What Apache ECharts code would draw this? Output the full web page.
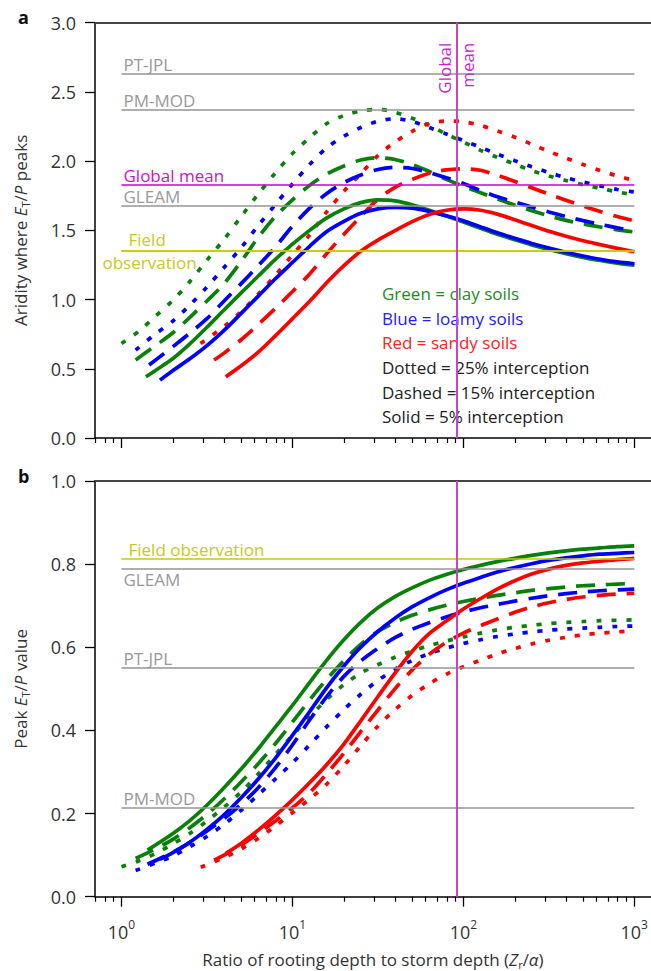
<!DOCTYPE html>
<html><head><meta charset="utf-8">
<script src="https://cdn.jsdelivr.net/npm/echarts@6/dist/echarts.min.js"></script>
<style>html,body{margin:0;padding:0;background:#fff}#c{width:651px;height:971px}</style>
</head><body><div id="c"></div>
<script>
// ---------------- data ----------------
const xMajorTicks = [1, 10, 100, 1000];
const xMinorTicks = [0.7, 0.8, 0.9, 2, 3, 4, 5, 6, 7, 8, 9, 20, 30, 40, 50, 60, 70, 80, 90,
  200, 300, 400, 500, 600, 700, 800, 900];
const globalMeanRatio = 91;
const refLineStartX = 1;
const refLineEndX = 1000;

// panel a reference lines
const refNamesA = ['PT-JPL', 'PM-MOD', 'Global mean', 'GLEAM', 'Field observation'];
const refValuesA = [2.63, 2.37, 1.83, 1.675, 1.355];
// panel b reference lines
const refNamesB = ['Field observation', 'GLEAM', 'PT-JPL', 'PM-MOD'];
const refValuesB = [0.812, 0.79, 0.551, 0.214];

// panel a: aridity where ET/P peaks  [ratio Zr/alpha, aridity]
const aridClayDotted = [[1,0.683],[1.26,0.77],[1.58,0.88],[2,0.995],[2.51,1.13],[3.16,1.285],[3.98,1.435],[5.01,1.60],[6.31,1.762],[7.94,1.915],[10,2.055],[12.6,2.17],[15.8,2.27],[20,2.33],[25.1,2.362],[31.6,2.374],[39.8,2.353],[50.1,2.31],[63.1,2.258],[79.4,2.195],[100,2.138],[126,2.078],[158,2.027],[200,1.978],[251,1.932],[316,1.893],[398,1.86],[501,1.83],[631,1.803],[794,1.778],[1000,1.755]];
const aridLoamyDotted = [[1.21,0.635],[1.58,0.752],[2,0.845],[2.51,0.96],[3.16,1.09],[3.98,1.232],[5.01,1.375],[6.31,1.535],[7.94,1.686],[10,1.835],[12.6,1.975],[15.8,2.095],[20,2.18],[25.1,2.243],[31.6,2.288],[39.8,2.306],[50.1,2.286],[63.1,2.243],[79.4,2.196],[100,2.148],[126,2.10],[158,2.05],[200,2.003],[251,1.96],[316,1.918],[398,1.88],[501,1.849],[631,1.821],[794,1.795],[1000,1.777]];
const aridSandyDotted = [[2.9,0.683],[3.98,0.806],[5.01,0.912],[6.31,1.04],[7.94,1.175],[10,1.323],[12.6,1.467],[15.8,1.632],[20,1.782],[25.1,1.91],[31.6,2.04],[39.8,2.138],[50.1,2.215],[63.1,2.272],[79.4,2.29],[100,2.284],[126,2.258],[158,2.218],[200,2.173],[251,2.122],[316,2.07],[398,2.022],[501,1.975],[631,1.932],[794,1.893],[1000,1.86]];
const aridClayDashed = [[1.21,0.563],[1.58,0.668],[2,0.76],[2.51,0.872],[3.16,0.99],[3.98,1.115],[5.01,1.275],[6.31,1.45],[7.94,1.60],[10,1.72],[12.6,1.825],[15.8,1.905],[20,1.965],[25.1,2.008],[31.6,2.024],[39.8,2.012],[50.1,1.975],[63.1,1.925],[79.4,1.868],[100,1.818],[126,1.772],[158,1.726],[200,1.682],[251,1.642],[316,1.605],[398,1.572],[501,1.546],[631,1.524],[794,1.504],[1000,1.488]];
const aridLoamyDashed = [[1.45,0.527],[2,0.66],[2.51,0.758],[3.16,0.862],[3.98,0.99],[5.01,1.115],[6.31,1.245],[7.94,1.38],[10,1.53],[12.6,1.66],[15.8,1.765],[20,1.845],[25.1,1.90],[31.6,1.94],[39.8,1.955],[50.1,1.947],[63.1,1.917],[79.4,1.88],[100,1.838],[126,1.787],[158,1.742],[200,1.705],[251,1.668],[316,1.633],[398,1.60],[501,1.57],[631,1.543],[794,1.518],[1000,1.496]];
const aridSandyDashed = [[3.48,0.563],[3.98,0.613],[5.01,0.71],[6.31,0.82],[7.94,0.936],[10,1.058],[12.6,1.185],[15.8,1.33],[20,1.472],[25.1,1.60],[31.6,1.725],[39.8,1.81],[50.1,1.868],[63.1,1.912],[79.4,1.937],[100,1.945],[126,1.934],[158,1.898],[200,1.853],[251,1.808],[316,1.762],[398,1.718],[501,1.675],[631,1.636],[794,1.60],[1000,1.568]];
const aridClaySolid = [[1.39,0.442],[1.58,0.488],[2,0.574],[2.51,0.68],[3.16,0.80],[3.98,0.925],[5.01,1.048],[6.31,1.17],[7.94,1.29],[10,1.40],[12.6,1.50],[15.8,1.588],[20,1.655],[25.1,1.70],[31.6,1.72],[39.8,1.713],[50.1,1.685],[63.1,1.645],[79.4,1.603],[100,1.56],[126,1.515],[158,1.472],[200,1.432],[251,1.395],[316,1.362],[398,1.332],[501,1.305],[631,1.282],[794,1.263],[1000,1.248]];
const aridLoamySolid = [[1.68,0.418],[2,0.488],[2.51,0.572],[3.16,0.667],[3.98,0.777],[5.01,0.90],[6.31,1.025],[7.94,1.15],[10,1.268],[12.6,1.385],[15.8,1.49],[20,1.565],[25.1,1.623],[31.6,1.655],[39.8,1.666],[50.1,1.66],[63.1,1.637],[79.4,1.605],[100,1.57],[126,1.525],[158,1.482],[200,1.442],[251,1.405],[316,1.372],[398,1.342],[501,1.315],[631,1.291],[794,1.272],[1000,1.258]];
const aridSandySolid = [[4.07,0.442],[5.01,0.522],[6.31,0.62],[7.94,0.738],[10,0.862],[12.6,0.988],[15.8,1.12],[20,1.245],[25.1,1.35],[31.6,1.43],[39.8,1.498],[50.1,1.563],[63.1,1.615],[79.4,1.645],[100,1.655],[126,1.645],[158,1.617],[200,1.576],[251,1.535],[316,1.493],[398,1.457],[501,1.425],[631,1.397],[794,1.37],[1000,1.345]];

// panel b: peak ET/P value  [ratio Zr/alpha, peak ET/P]
const peakClayDotted = [[1,0.072],[1.26,0.086],[1.58,0.104],[2,0.127],[2.51,0.152],[3.16,0.182],[3.98,0.215],[5.01,0.252],[6.31,0.295],[7.94,0.342],[10,0.388],[12.6,0.432],[15.8,0.474],[20,0.51],[25.1,0.538],[31.6,0.558],[39.8,0.576],[50.1,0.591],[63.1,0.604],[79.4,0.615],[100,0.625],[126,0.634],[158,0.642],[200,0.648],[251,0.653],[316,0.657],[398,0.66],[501,0.662],[631,0.664],[794,0.665],[1000,0.666]];
const peakLoamyDotted = [[1.21,0.063],[1.58,0.081],[2,0.098],[2.51,0.12],[3.16,0.145],[3.98,0.174],[5.01,0.208],[6.31,0.245],[7.94,0.283],[10,0.322],[12.6,0.365],[15.8,0.408],[20,0.45],[25.1,0.487],[31.6,0.52],[39.8,0.547],[50.1,0.568],[63.1,0.585],[79.4,0.598],[100,0.609],[126,0.618],[158,0.626],[200,0.632],[251,0.637],[316,0.641],[398,0.644],[501,0.646],[631,0.648],[794,0.65],[1000,0.651]];
const peakSandyDotted = [[2.91,0.071],[3.98,0.094],[5.01,0.115],[6.31,0.14],[7.94,0.17],[10,0.202],[12.6,0.235],[15.8,0.27],[20,0.315],[25.1,0.363],[31.6,0.41],[39.8,0.45],[50.1,0.484],[63.1,0.512],[79.4,0.535],[100,0.553],[126,0.569],[158,0.584],[200,0.597],[251,0.608],[316,0.617],[398,0.624],[501,0.63],[631,0.634],[794,0.637],[1000,0.64]];
const peakClayDashed = [[1.21,0.092],[1.58,0.115],[2,0.138],[2.51,0.166],[3.16,0.198],[3.98,0.235],[5.01,0.276],[6.31,0.32],[7.94,0.368],[10,0.42],[12.6,0.473],[15.8,0.522],[20,0.568],[25.1,0.607],[31.6,0.638],[39.8,0.66],[50.1,0.677],[63.1,0.69],[79.4,0.701],[100,0.71],[126,0.718],[158,0.725],[200,0.731],[251,0.737],[316,0.741],[398,0.745],[501,0.748],[631,0.75],[794,0.752],[1000,0.754]];
const peakLoamyDashed = [[1.42,0.078],[2,0.107],[2.51,0.13],[3.16,0.158],[3.98,0.188],[5.01,0.222],[6.31,0.262],[7.94,0.31],[10,0.365],[12.6,0.425],[15.8,0.48],[20,0.53],[25.1,0.567],[31.6,0.597],[39.8,0.623],[50.1,0.643],[63.1,0.659],[79.4,0.673],[100,0.685],[126,0.695],[158,0.703],[200,0.711],[251,0.718],[316,0.724],[398,0.729],[501,0.733],[631,0.736],[794,0.738],[1000,0.74]];
const peakSandyDashed = [[3.48,0.088],[3.98,0.1],[5.01,0.124],[6.31,0.152],[7.94,0.182],[10,0.214],[12.6,0.25],[15.8,0.295],[20,0.345],[25.1,0.397],[31.6,0.449],[39.8,0.5],[50.1,0.545],[63.1,0.583],[79.4,0.612],[100,0.634],[126,0.652],[158,0.668],[200,0.684],[251,0.697],[316,0.707],[398,0.715],[501,0.721],[631,0.725],[794,0.728],[1000,0.73]];
const peakClaySolid = [[1.42,0.112],[2,0.152],[2.51,0.183],[3.16,0.22],[3.98,0.262],[5.01,0.307],[6.31,0.356],[7.94,0.408],[10,0.46],[12.6,0.515],[15.8,0.568],[20,0.618],[25.1,0.66],[31.6,0.695],[39.8,0.722],[50.1,0.743],[63.1,0.761],[79.4,0.775],[100,0.787],[126,0.797],[158,0.806],[200,0.814],[251,0.821],[316,0.827],[398,0.832],[501,0.836],[631,0.839],[794,0.842],[1000,0.844]];
const peakLoamySolid = [[1.68,0.09],[2,0.106],[2.51,0.131],[3.16,0.162],[3.98,0.197],[5.01,0.238],[6.31,0.283],[7.94,0.333],[10,0.388],[12.6,0.445],[15.8,0.502],[20,0.555],[25.1,0.6],[31.6,0.638],[39.8,0.67],[50.1,0.697],[63.1,0.719],[79.4,0.738],[100,0.754],[126,0.768],[158,0.781],[200,0.792],[251,0.801],[316,0.809],[398,0.815],[501,0.82],[631,0.824],[794,0.826],[1000,0.828]];
const peakSandySolid = [[4.07,0.104],[5.01,0.128],[6.31,0.16],[7.94,0.195],[10,0.233],[12.6,0.274],[15.8,0.317],[20,0.367],[25.1,0.423],[31.6,0.481],[39.8,0.538],[50.1,0.59],[63.1,0.633],[79.4,0.663],[100,0.692],[126,0.717],[158,0.74],[200,0.76],[251,0.776],[316,0.788],[398,0.797],[501,0.803],[631,0.807],[794,0.811],[1000,0.814]];

// ---------------- styling ----------------
const FONT = '"Open Sans", "Noto Sans", sans-serif';
const soilColor = { clay: '#0a800a', loamy: '#0000ff', sandy: '#ff0000' };
const dashType = { dotted: [5, 10], dashed: [19, 11], solid: 'solid' };
const refColor = { 'PT-JPL': '#999999', 'PM-MOD': '#999999', 'GLEAM': '#999999',
  'Global mean': '#cc11cc', 'Field observation': '#c8c828' };
const GRAY_LINE = '#959595';

const curves = [
  ['clay','dotted',aridClayDotted,peakClayDotted],
  ['loamy','dotted',aridLoamyDotted,peakLoamyDotted],
  ['sandy','dotted',aridSandyDotted,peakSandyDotted],
  ['clay','dashed',aridClayDashed,peakClayDashed],
  ['loamy','dashed',aridLoamyDashed,peakLoamyDashed],
  ['sandy','dashed',aridSandyDashed,peakSandyDashed],
  ['clay','solid',aridClaySolid,peakClaySolid],
  ['loamy','solid',aridLoamySolid,peakLoamySolid],
  ['sandy','solid',aridSandySolid,peakSandySolid]
];

const GRID_LEFT = 95, GRID_W = 556;
const grids = [
  { left: GRID_LEFT, top: 22.7, width: GRID_W, height: 415.3 },
  { left: GRID_LEFT, top: 481, width: GRID_W, height: 415.7 }
];

const nameRich = {
  n: { fontSize: 17, fontFamily: FONT, color: '#333', lineHeight: 21, verticalAlign: 'middle' },
  i: { fontSize: 17, fontFamily: FONT, fontStyle: 'italic', color: '#333', lineHeight: 21, verticalAlign: 'middle' },
  sub: { fontSize: 11, fontFamily: FONT, color: '#333', lineHeight: 11, verticalAlign: 'bottom' }
};

function xAxesFor(g, withLabels) {
  const base = { gridIndex: g, type: 'log', logBase: 10, min: 0.7, max: 1250, splitLine: { show: false } };
  return [
    Object.assign({}, base, {
      position: 'bottom',
      axisLine: { show: true, lineStyle: { color: '#000', width: 1.5 } },
      axisTick: { show: true, inside: false, length: 10, customValues: xMajorTicks, lineStyle: { color: '#000', width: 1.3 } },
      axisLabel: withLabels ? {
        show: true, customValues: xMajorTicks, margin: 22,
        formatter: v => '{b|10}{s|' + Math.round(Math.log10(v)) + '}',
        rich: {
          b: { fontSize: 18, fontFamily: FONT, color: '#333', lineHeight: 22, verticalAlign: 'bottom' },
          s: { fontSize: 12, fontFamily: FONT, color: '#333', lineHeight: 12, verticalAlign: 'top' }
        }
      } : { show: false },
      name: withLabels ? '{n|Ratio of rooting depth to storm depth (}{i|Z}{sub|r}{n|/}{i|α}{n|)}' : '',
      nameLocation: 'middle', nameGap: 52,
      nameTextStyle: { rich: nameRich }
    }),
    Object.assign({}, base, {
      position: 'bottom',
      axisLine: { show: false },
      axisTick: { show: true, inside: false, length: 5, customValues: xMinorTicks, lineStyle: { color: '#000', width: 1.2 } },
      axisLabel: { show: false }
    }),
    Object.assign({}, base, {
      position: 'top',
      axisLine: { show: true, lineStyle: { color: '#444', width: 2 } },
      axisTick: { show: false },
      axisLabel: { show: false }
    })
  ];
}

function yAxisFor(g, max, interval, name) {
  return {
    gridIndex: g, type: 'value', min: 0, max: max, interval: interval,
    axisLine: { show: true, lineStyle: { color: '#000', width: 1.5 } },
    axisTick: { show: true, inside: false, length: 10, lineStyle: { color: '#000', width: 1.3 } },
    axisLabel: { margin: 19, fontSize: 18, fontFamily: FONT, color: '#333', formatter: v => v.toFixed(1) },
    splitLine: { show: false },
    name: name, nameLocation: 'middle', nameGap: 64,
    nameTextStyle: { rich: nameRich }
  };
}

const series = [];
function refMarkLine(names, values, panel) {
  const data = [];
  names.forEach((nm, k) => {
    const v = values[k];
    const col = refColor[nm];
    const ls = { color: nm === 'Global mean' ? '#cc00cc' : (nm === 'Field observation' ? '#c8c800' : GRAY_LINE), width: 1.5, type: 'solid' };
    const lab = { show: true, color: col, fontSize: 17, fontFamily: FONT };
    if (panel === 'a' && nm === 'Field observation') {
      data.push([{ coord: [refLineStartX, v], lineStyle: ls, label: Object.assign({}, lab, { position: 'insideStartTop', formatter: 'Field', distance: [7, 2] }) },
                 { coord: [refLineEndX, v] }]);
      data.push([{ coord: [refLineStartX, v], lineStyle: ls, label: Object.assign({}, lab, { position: 'insideStartBottom', formatter: 'observation', distance: [-19, 4] }) },
                 { coord: [refLineEndX, v] }]);
    } else {
      let pos = 'insideStartTop', dist = [2, 1];
      if (panel === 'b' && nm === 'GLEAM') { pos = 'insideStartBottom'; dist = [2, 3]; }
      if (panel === 'b' && nm === 'Field observation') { dist = [7, 1]; }
      data.push([{ coord: [refLineStartX, v], lineStyle: ls, label: Object.assign({}, lab, { position: pos, formatter: nm, distance: dist }) },
                 { coord: [refLineEndX, v] }]);
    }
  });
  return data;
}

series.push({ type: 'line', xAxisIndex: 0, yAxisIndex: 0, data: [], z: 1, silent: true,
  markLine: { symbol: ['none', 'none'], silent: true, animation: false, data: refMarkLine(refNamesA, refValuesA, 'a') } });
series.push({ type: 'line', xAxisIndex: 3, yAxisIndex: 1, data: [], z: 1, silent: true,
  markLine: { symbol: ['none', 'none'], silent: true, animation: false, data: refMarkLine(refNamesB, refValuesB, 'b') } });

curves.forEach(([soil, style, arid, peak]) => {
  const ls = { color: soilColor[soil], width: 3.7, type: dashType[style], cap: 'butt' };
  series.push({ type: 'line', name: soil + ' ' + style, xAxisIndex: 0, yAxisIndex: 0, data: arid,
    showSymbol: false, symbol: 'none', smooth: 0.3, lineStyle: ls, z: 3, animation: false });
  series.push({ type: 'line', name: soil + ' ' + style, xAxisIndex: 3, yAxisIndex: 1, data: peak,
    showSymbol: false, symbol: 'none', smooth: 0.3, lineStyle: ls, z: 3, animation: false });
});

// vertical global-mean lines (on top)
const vStyle = { color: '#c845c8', width: 2, type: 'solid' };
const vLab = { show: true, color: '#cc22cc', fontSize: 17, fontFamily: FONT };
series.push({ type: 'line', xAxisIndex: 0, yAxisIndex: 0, data: [], z: 5, silent: true,
  markLine: { symbol: ['none', 'none'], silent: true, animation: false, data: [
    [{ coord: [globalMeanRatio, 0], lineStyle: vStyle, label: Object.assign({}, vLab, { position: 'insideEndTop', formatter: 'Global', distance: [20, 3] }) }, { coord: [globalMeanRatio, 3] }],
    [{ coord: [globalMeanRatio, 0], lineStyle: vStyle, label: Object.assign({}, vLab, { position: 'insideEndBottom', formatter: 'mean', distance: [20, 3] }) }, { coord: [globalMeanRatio, 3] }]
  ] } });
series.push({ type: 'line', xAxisIndex: 3, yAxisIndex: 1, data: [], z: 5, silent: true,
  markLine: { symbol: ['none', 'none'], silent: true, animation: false, label: { show: false }, data: [
    [{ coord: [globalMeanRatio, 0], lineStyle: vStyle }, { coord: [globalMeanRatio, 1] }]
  ] } });

const legendText = '{g|Green = clay soils}\n{b|Blue = loamy soils}\n{r|Red = sandy soils}\n{k|Dotted = 25% interception}\n{k|Dashed = 15% interception}\n{k|Solid = 5% interception}';
const legRich = (c) => ({ fill: c, fontSize: 17, fontFamily: FONT, lineHeight: 24.7 });

const option = {
  animation: false,
  backgroundColor: '#fff',
  grid: grids,
  xAxis: xAxesFor(0, false).concat(xAxesFor(1, true)),
  yAxis: [
    yAxisFor(0, 3, 0.5, '{n|Aridity where }{i|E}{sub|T}{n|/}{i|P}{n| peaks}'),
    yAxisFor(1, 1, 0.2, '{n|Peak }{i|E}{sub|T}{n|/}{i|P}{n| value}')
  ],
  series: series,
  graphic: [
    { type: 'text', x: 18, y: 17, style: { text: 'a', font: 'bold 18px ' + FONT, fill: '#111', verticalAlign: 'middle' } },
    { type: 'text', x: 18, y: 476, style: { text: 'b', font: 'bold 18px ' + FONT, fill: '#111', verticalAlign: 'middle' } },
    { type: 'text', x: 382, y: 281, z: 4, style: { text: legendText, fontSize: 17, fontFamily: FONT, lineHeight: 24.7,
      rich: { g: legRich('#1e8c1e'), b: legRich('#2020ff'), r: legRich('#ff2020'), k: legRich('#222') } } }
  ]
};

const chart = echarts.init(document.getElementById('c'), null, { renderer: 'svg', width: 651, height: 971 });
chart.setOption(option);
</script>
</body></html>
